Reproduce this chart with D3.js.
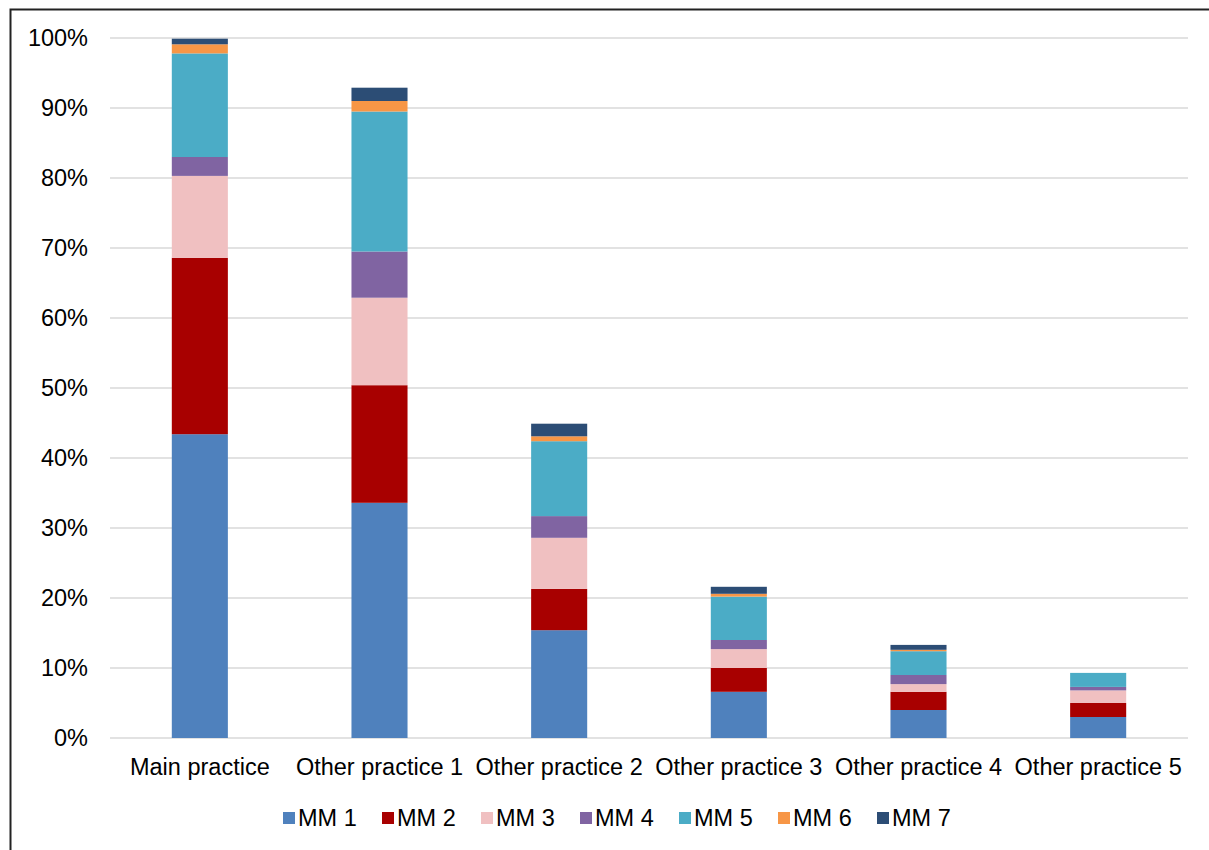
<!DOCTYPE html>
<html>
<head>
<meta charset="utf-8">
<script src="https://cdn.jsdelivr.net/npm/d3@7"></script>
<style>
    body { margin: 0; background: #fff; }
    text { font-family: "Liberation Sans", Arial, sans-serif; fill: #000; }
</style>
</head>
<body>
<div id="chart"></div>
<script>
// data (percent of patients)
let categories = ["Main practice", "Other practice 1", "Other practice 2", "Other practice 3", "Other practice 4", "Other practice 5"];
let seriesNames = ["MM 1", "MM 2", "MM 3", "MM 4", "MM 5", "MM 6", "MM 7"];
let mm1 = [43.4, 33.6, 15.4, 6.6, 4.0, 3.0];
let mm2 = [25.2, 16.8, 5.9, 3.4, 2.6, 2.0];
let mm3 = [11.7, 12.5, 7.3, 2.7, 1.1, 1.8];
let mm4 = [2.7, 6.6, 3.1, 1.3, 1.3, 0.5];
let mm5 = [14.8, 20.0, 10.7, 6.2, 3.4, 2.0];
let mm6 = [1.3, 1.5, 0.7, 0.4, 0.2, 0];
let mm7 = [0.8, 1.9, 1.8, 1.0, 0.7, 0];
let yTicks = [0, 10, 20, 30, 40, 50, 60, 70, 80, 90, 100];
let colors = ["#4f81bd", "#a80000", "#f0c0c1", "#8064a2", "#4bacc6", "#f79646", "#2c4d75"];

let seriesValues = [mm1, mm2, mm3, mm4, mm5, mm6, mm7];
let rows = categories.map((c, i) => {
    let r = {category: c};
    seriesNames.forEach((s, j) => r[s] = seriesValues[j][i]);
    return r;
});

let width = 1209, height = 850;
let fontSize = "23.5px";
let svg = d3.select("#chart").append("svg")
    .attr("width", width)
    .attr("height", height);

// outer frame
svg.append("rect")
    .attr("x", 10.5).attr("y", 9.5)
    .attr("width", 1240).attr("height", 900)
    .attr("fill", "none")
    .attr("stroke", "#222")
    .attr("stroke-width", 2);

let x = d3.scaleBand()
    .domain(categories)
    .range([110, 1188])
    .paddingInner(0.688)
    .paddingOuter(0.344);

let y = d3.scaleLinear()
    .domain([0, 100])
    .range([738, 38]);

// gridlines
svg.append("g")
    .selectAll("line")
    .data(yTicks)
    .enter()
    .append("line")
    .attr("x1", 110).attr("x2", 1188)
    .attr("y1", d => y(d)).attr("y2", d => y(d))
    .attr("stroke", "#d9d9d9")
    .attr("stroke-width", 1.5);

// y labels
let yAxis = svg.append("g")
    .attr("transform", "translate(88,0)")
    .call(d3.axisLeft(y).tickValues(yTicks).tickFormat(d => d + "%").tickSize(0).tickPadding(0));
yAxis.select(".domain").remove();
yAxis.selectAll("text")
    .style("font-size", fontSize)
    .style("font-family", "Liberation Sans, Arial, sans-serif")
    .attr("fill", "#000");

// stacked bars
let stack = d3.stack().keys(seriesNames);
let layers = stack(rows);

svg.append("g")
    .selectAll("g")
    .data(layers)
    .enter()
    .append("g")
    .attr("fill", (d, i) => colors[i])
    .selectAll("rect")
    .data(d => d)
    .enter()
    .append("rect")
    .attr("x", d => x(d.data.category))
    .attr("width", x.bandwidth())
    .attr("y", d => y(d[1]))
    .attr("height", d => y(d[0]) - y(d[1]));

// x labels
let xAxis = svg.append("g")
    .attr("transform", "translate(0,738)")
    .call(d3.axisBottom(x).tickSize(0).tickPadding(0));
xAxis.select(".domain").remove();
xAxis.selectAll("text")
    .attr("dy", null)
    .attr("y", 37)
    .style("font-size", fontSize)
    .style("font-family", "Liberation Sans, Arial, sans-serif")
    .attr("fill", "#000");

// legend
let legendStart = 283, legendStep = 99;
let legend = svg.append("g")
    .selectAll("g")
    .data(seriesNames)
    .enter()
    .append("g")
    .attr("transform", (d, i) => "translate(" + (legendStart + i * legendStep) + ",826)");
legend.append("rect")
    .attr("x", 0).attr("y", -14)
    .attr("width", 12).attr("height", 12)
    .attr("fill", (d, i) => colors[i]);
legend.append("text")
    .attr("x", 15)
    .attr("y", 0)
    .style("font-size", fontSize)
    .text(d => d);
</script>
</body>
</html>
